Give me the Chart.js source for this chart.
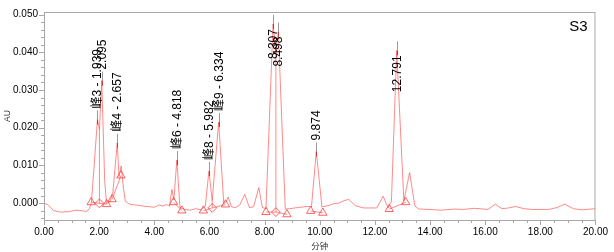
<!DOCTYPE html>
<html>
<head>
<meta charset="utf-8">
<script src="https://cdn.jsdelivr.net/npm/chart.js@4.4.1/dist/chart.umd.min.js"></script>
<style>
  html, body { margin: 0; padding: 0; background: #fff; }
</style>
</head>
<body>
<canvas id="chrom" width="614" height="252"></canvas>
<script>
/* ============================
   S3 chromatogram (AU vs 分钟)
   ============================ */

// Trace: retention time (min) and absorbance (AU)
const retentionTimes = [
  0.00, 0.15, 0.35, 0.60, 0.90, 1.15, 1.30, 1.55, 1.65, 1.72, 1.80, 1.939, 2.01, 2.095, 2.20, 2.27,
  2.40, 2.50, 2.657, 2.72, 2.80, 2.88, 2.95, 3.10, 3.40, 3.70, 4.00, 4.18, 4.30, 4.45, 4.55, 4.64,
  4.71, 4.818, 4.93, 5.10, 5.30, 5.50, 5.70, 5.85, 5.982, 6.10, 6.334, 6.52, 6.60, 6.68, 6.80, 6.95,
  7.10, 7.28, 7.45, 7.60, 7.79, 7.92, 8.05, 8.307, 8.41, 8.498, 8.75, 8.90, 9.20, 9.55, 9.70, 9.874,
  10.08, 10.30, 10.50, 10.70, 10.87, 11.05, 11.29, 11.59, 12.07, 12.30, 12.48, 12.60, 12.791, 13.05,
  13.26, 13.45, 13.60, 14.00, 14.40, 14.90, 15.20, 15.60, 16.10, 16.37, 16.61, 16.85, 17.10, 17.40,
  17.70, 18.30, 18.60, 18.89, 19.20, 19.50, 20.00
];
const absorbance = [
  0.0000, -0.0005, -0.0020, -0.0024, -0.0023, -0.0019, -0.0020, -0.0022, -0.0015, 0.0002, 0.0080, 0.0222, 0.0195, 0.0325, 0.0060, -0.0002,
  0.0005, 0.0030, 0.0160, 0.0070, 0.0098, 0.0040, 0.0005, -0.0003, -0.0006, -0.0009, -0.0011, -0.0005, -0.0008, -0.0004, -0.0008, 0.0036,
  0.0008, 0.0114, -0.0012, -0.0017, -0.0019, -0.0015, -0.0018, -0.0008, 0.0085, 0.0006, 0.0215, -0.0002, 0.0003, 0.0016, -0.0010, -0.0012,
  -0.0005, 0.0023, -0.0012, -0.0010, 0.0041, -0.0012, -0.0015, 0.0475, 0.0400, 0.0455, -0.0016, -0.0015, -0.0012, -0.0009, -0.0010, 0.0137,
  -0.0010, -0.0007, -0.0002, 0.0000, 0.0006, 0.0010, -0.0007, -0.0013, -0.0013, 0.0018, -0.0013, 0.0005, 0.0405, 0.0006,
  0.0081, -0.0008, -0.0016, -0.0017, -0.0019, -0.0016, -0.0017, -0.0014, -0.0017, -0.0003, -0.0015, -0.0013, -0.0009, -0.0015,
  -0.0017, -0.0017, -0.0012, -0.0003, -0.0015, -0.0018, -0.0015
];

// Peak start / end markers (triangles) and valley drop markers (diamonds)
const edgeTimes = [1.71, 2.27, 2.47, 2.79, 4.70, 5.00, 5.78, 6.58, 8.05, 8.81, 9.67, 10.11, 12.52, 13.12];
const edgeAU    = [0.0002, -0.0003, 0.0010, 0.0073, 0.0002, -0.0020, -0.0020, -0.0004, -0.0024, -0.0030, -0.0021, -0.0026, -0.0016, 0.0002];
const dropTimes = [2.01, 6.10, 8.41];
const dropAU    = [-0.0001, -0.0013, -0.0024];
const dropTopAU = [0.0195, 0.0006, 0.0400];

// Integration baselines (null = break)
const baseTimes = [1.71, 2.01, 2.27, 2.27, 2.47, 2.79, 2.79, 4.70, 5.00, 5.00, 5.78, 6.10, 6.58, 6.58, 8.05, 8.41, 8.81, 8.81, 9.67, 10.11, 10.11, 12.52, 13.12];
const baseAU    = [0.0002, -0.0001, -0.0003, null, 0.0010, 0.0073, null, 0.0002, -0.0020, null, -0.0020, -0.0013, -0.0004, null, -0.0024, -0.0024, -0.0030, null, -0.0021, -0.0026, null, -0.0016, 0.0002];

// Labelled peaks
const peakTimes   = [1.939, 2.095, 2.657, 4.818, 5.982, 6.334, 8.307, 8.498, 9.874, 12.791];
const peakHeights = [0.0222, 0.0325, 0.0160, 0.0114, 0.0085, 0.0215, 0.0475, 0.0455, 0.0137, 0.0405];
const peakNames   = ['峰3 - 1.939', '2.095', '峰4 - 2.657', '峰6 - 4.818', '峰8 - 5.982', '峰9 - 6.334', '8.307', '8.498', '9.874', '12.791'];

// Axes
const xTicks = [0, 2, 4, 6, 8, 10, 12, 14, 16, 18, 20];
const xTickLabels = ['0.00', '2.00', '4.00', '6.00', '8.00', '10.00', '12.00', '14.00', '16.00', '18.00', '20.00'];
const yTicks = [0, 0.01, 0.02, 0.03, 0.04, 0.05];
const yTickLabels = ['0.000', '0.010', '0.020', '0.030', '0.040', '0.050'];

const TRACE = 'rgba(255,60,60,0.6)';
const MARK = 'rgba(255,50,50,0.75)';
const LABEL_FONT = '12px "Liberation Sans", Arial, "Noto Sans CJK SC", sans-serif';

const decor = {
  id: 'decor',
  afterDraw(chart) {
    const { ctx, chartArea: a, scales: { x, y } } = chart;
    ctx.save();

    // frame
    ctx.strokeStyle = '#a8a8a8';
    ctx.lineWidth = 1;
    ctx.strokeRect(a.left + 0.5, a.top + 0.5, a.right - a.left - 1, a.bottom - a.top);

    // tick marks
    ctx.beginPath();
    for (let k = -2; k <= 25; k++) {
      const py = Math.round(y.getPixelForValue(k * 0.002)) + 0.5;
      const len = k % 5 === 0 ? 5 : 3;
      ctx.moveTo(a.left, py);
      ctx.lineTo(a.left - len, py);
    }
    for (let k = 0; k <= 40; k++) {
      const px = Math.round(x.getPixelForValue(k * 0.5)) + 0.5;
      const len = k % 4 === 0 ? 5 : 3;
      ctx.moveTo(px, a.bottom);
      ctx.lineTo(px, a.bottom + len);
    }
    ctx.stroke();

    // peak labels
    ctx.font = LABEL_FONT;
    ctx.textBaseline = 'middle';
    peakTimes.forEach((t, i) => {
      const px = Math.round(x.getPixelForValue(t)) + 0.5;
      const py = y.getPixelForValue(peakHeights[i]);
      ctx.strokeStyle = '#9a9a9a';
      ctx.beginPath(); ctx.moveTo(px, py); ctx.lineTo(px, py - 9); ctx.stroke();
      ctx.strokeStyle = '#c03838';
      ctx.beginPath(); ctx.moveTo(px, py); ctx.lineTo(px, py + 5); ctx.stroke();

      const w = ctx.measureText(peakNames[i]).width;
      const above = py - 11 - w > a.top;
      ctx.save();
      ctx.translate(px, above ? py - 11 : py + 5);
      ctx.rotate(-Math.PI / 2);
      ctx.fillStyle = '#000';
      ctx.textAlign = above ? 'left' : 'right';
      ctx.fillText(peakNames[i], 0, 0);
      ctx.restore();
    });

    // sample name
    ctx.font = '15px "Liberation Sans", Arial, sans-serif';
    ctx.fillStyle = '#000';
    ctx.textAlign = 'right';
    ctx.textBaseline = 'alphabetic';
    ctx.fillText('S3', a.right - 8, a.top + 19);
    ctx.restore();
  }
};

new Chart(document.getElementById('chrom'), {
  type: 'line',
  data: {
    datasets: [
      {
        data: retentionTimes.map((t, i) => ({ x: t, y: absorbance[i] })),
        borderColor: TRACE, borderWidth: 1, pointRadius: 0, tension: 0
      },
      {
        data: baseTimes.map((t, i) => ({ x: t, y: baseAU[i] })),
        borderColor: TRACE, borderWidth: 1, pointRadius: 0, spanGaps: false
      },
      {
        data: dropTimes.flatMap((t, i) => [{ x: t, y: dropAU[i] }, { x: t, y: dropTopAU[i] }, { x: t, y: null }]),
        borderColor: TRACE, borderWidth: 1, pointRadius: 0, spanGaps: false
      },
      {
        data: edgeTimes.map((t, i) => ({ x: t, y: edgeAU[i] })),
        showLine: false, pointStyle: 'triangle', pointRadius: 4.8,
        borderColor: MARK, backgroundColor: 'rgba(0,0,0,0)', pointBorderWidth: 1
      },
      {
        data: dropTimes.map((t, i) => ({ x: t, y: dropAU[i] })),
        showLine: false, pointStyle: 'rectRot', pointRadius: 4.4,
        borderColor: MARK, backgroundColor: 'rgba(0,0,0,0)', pointBorderWidth: 1
      }
    ]
  },
  options: {
    responsive: false,
    animation: false,
    layout: { padding: { left: 0, top: 2, right: 13, bottom: 0 } },
    plugins: { legend: { display: false }, tooltip: { enabled: false } },
    scales: {
      x: {
        type: 'linear', min: 0, max: 20,
        afterBuildTicks: s => { s.ticks = xTicks.map(v => ({ value: v })); },
        afterFit: s => { s.height = 32; },
        ticks: {
          autoSkip: false, maxRotation: 0, padding: 6, color: '#000',
          font: { family: '"Liberation Sans", Arial, sans-serif', size: 10 },
          callback: (v, i) => xTickLabels[i]
        },
        grid: { display: false, drawTicks: false },
        border: { display: false },
        title: {
          display: true, text: '分钟', color: '#333',
          font: { family: '"Noto Sans CJK SC", sans-serif', size: 8.5 },
          padding: { top: 0, bottom: 1 }
        }
      },
      y: {
        min: -0.0045, max: 0.0507,
        afterBuildTicks: s => { s.ticks = yTicks.map(v => ({ value: v })); },
        afterFit: s => { s.width = 44; },
        ticks: {
          autoSkip: false, padding: 6, color: '#000',
          font: { family: '"Liberation Sans", Arial, sans-serif', size: 10 },
          callback: (v, i) => yTickLabels[i]
        },
        grid: { display: false, drawTicks: false },
        border: { display: false },
        title: {
          display: true, text: 'AU', color: '#333',
          font: { family: '"Liberation Sans", Arial, sans-serif', size: 8.5 },
          padding: { top: 3, bottom: 0 }
        }
      }
    }
  },
  plugins: [decor]
});
</script>
</body>
</html>
